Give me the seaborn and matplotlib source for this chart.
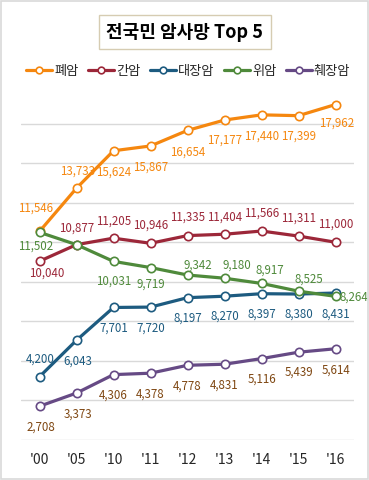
import matplotlib
matplotlib.use("Agg")
import matplotlib.pyplot as plt
import matplotlib.patches as patches
import seaborn as sns
import pandas as pd

# data
years = ["'00", "'05", "'10", "'11", "'12", "'13", "'14", "'15", "'16"]
lung = [11546, 13733, 15624, 15867, 16654, 17177, 17440, 17399, 17962]
liver = [10040, 10877, 11205, 10946, 11335, 11404, 11566, 11311, 11000]
colon = [4200, 6043, 7701, 7720, 8197, 8270, 8397, 8380, 8431]
stomach = [11502, 10877, 10031, 9719, 9342, 9180, 8917, 8525, 8264]
pancreas = [2708, 3373, 4306, 4378, 4778, 4831, 5116, 5439, 5614]

names = ["폐암", "간암", "대장암", "위암", "췌장암"]
series = [lung, liver, colon, stomach, pancreas]
line_colors = ["#f5870f", "#9c2739", "#1d5b80", "#4f8a3b", "#664a85"]
text_colors = ["#f5870f", "#9c2739", "#1d5b80", "#4f8a3b", "#7f4712"]

# label offsets in pixels (dx, dy up); None = no label
offsets = [
    [(-4, 23), (1, 17), (0, -21), (0, -21), (0, -22), (0, -20), (0, -21), (0, -20), (1, -19)],
    [(7, -12), (0, 17), (0, 17), (0, 18), (0, 18), (0, 17), (0, 18), (0, 18), (0, 18)],
    [(1, 18), (1, -21), (0, -21), (0, -21), (0, -20), (0, -20), (0, -20), (0, -20), (0, -21)],
    [(-4, -14), None, (0, -20), (0, -17), (10, 10), (12, 13), (8, 13), (10, 12), (18, -1)],
    [(1, -21), (1, -21), (0, -21), (0, -21), (0, -21), (0, -21), (0, -21), (0, -20), (0, -21)],
]

rows = []
for n, vals in zip(names, series):
    for i, v in enumerate(vals):
        rows.append({"cancer": n, "idx": i, "deaths": v})
df = pd.DataFrame(rows)

sns.set_style("white")
plt.rcParams["font.family"] = ["Noto Sans CJK KR", "DejaVu Sans"]

fig = plt.figure(figsize=(3.69, 4.8), dpi=100)
ax = fig.add_axes([21 / 369, 40 / 480, 333 / 369, 356 / 480])

for n, c in zip(names, line_colors):
    sns.lineplot(data=df[df["cancer"] == n], x="idx", y="deaths", ax=ax, color=c,
                 linewidth=2.3, marker="o", markersize=6, markerfacecolor="white",
                 markeredgecolor=c, markeredgewidth=1.2, label=n)

px = 0.72  # pixel -> points at 100 dpi
for vals, offs, tc in zip(series, offsets, text_colors):
    for i, (v, o) in enumerate(zip(vals, offs)):
        if o is None:
            continue
        ax.annotate(f"{v:,}", (i, v), xytext=(o[0] * px, o[1] * px),
                    textcoords="offset points", ha="center", va="center",
                    fontsize=8.3, color=tc)

ax.set_xlim(-0.5, 8.5)
ax.set_ylim(1000, 19000)
ax.set_yticks(range(1000, 18000, 2000))
ax.set_yticklabels([])
ax.grid(axis="y", color="#d9d9d9", linewidth=1)
ax.set_xticks(range(len(years)))
ax.set_xticklabels(years, fontsize=10, color="#262626")
ax.tick_params(axis="both", length=0, pad=9)
ax.set_xlabel("")
ax.set_ylabel("")
for s in ax.spines.values():
    s.set_visible(False)

handles, labels = ax.get_legend_handles_labels()
ax.get_legend().remove()
fig.legend(handles, labels, loc="center", bbox_to_anchor=(0.51, 1 - 71 / 480), ncol=5,
           frameon=False, fontsize=9.5, handlelength=2.0, handletextpad=0.15,
           columnspacing=0.7, markerscale=0.8, borderaxespad=0)

fig.text(185 / 369, 1 - 32 / 480, "전국민 암사망 Top 5", ha="center", va="center",
         fontsize=13, fontweight="bold", color="black",
         bbox=dict(boxstyle="square,pad=0.4", facecolor="white", edgecolor="#d6ccb2", linewidth=1))

fig.patches.append(patches.Rectangle((0.002, 0.002), 0.996, 0.996, transform=fig.transFigure,
                                     fill=False, edgecolor="#d9d9d9", linewidth=1.2))

fig.savefig("out.png", dpi=100)
